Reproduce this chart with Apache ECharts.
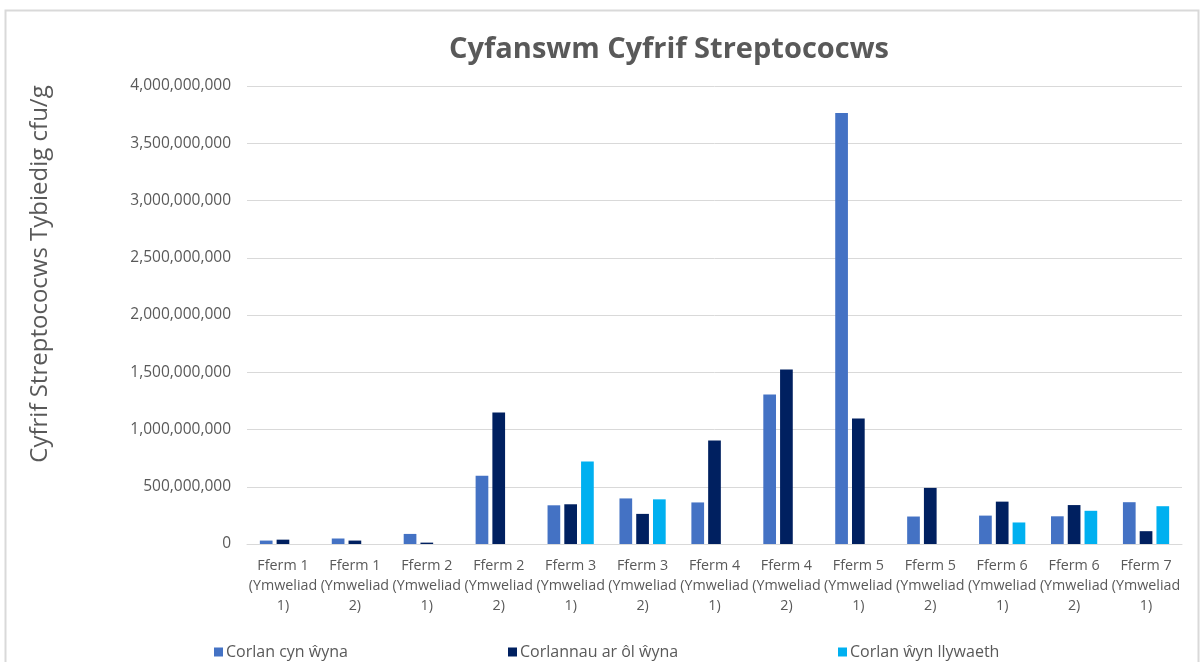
<!DOCTYPE html>
<html>
<head>
<meta charset="utf-8">
<script src="https://cdn.jsdelivr.net/npm/echarts@6/dist/echarts.min.js"></script>
<style>
html,body{margin:0;padding:0;background:#fff;}
#main{width:1204px;height:662px;}
</style>
</head>
<body>
<div id="main"></div>
<script>
const categories = [
  "Fferm 1\n(Ymweliad\n1)", "Fferm 1\n(Ymweliad\n2)", "Fferm 2\n(Ymweliad\n1)", "Fferm 2\n(Ymweliad\n2)",
  "Fferm 3\n(Ymweliad\n1)", "Fferm 3\n(Ymweliad\n2)", "Fferm 4\n(Ymweliad\n1)", "Fferm 4\n(Ymweliad\n2)",
  "Fferm 5\n(Ymweliad\n1)", "Fferm 5\n(Ymweliad\n2)", "Fferm 6\n(Ymweliad\n1)", "Fferm 6\n(Ymweliad\n2)",
  "Fferm 7\n(Ymweliad\n1)"
];
const seriesNames = ["Corlan cyn ŵyna", "Corlannau ar ôl ŵyna", "Corlan ŵyn llywaeth"];
const corlanCynWyna = [30000000, 48000000, 88000000, 595000000, 338000000, 398000000, 363000000, 1305000000, 3765000000, 240000000, 248000000, 242000000, 365000000];
const corlannauArOlWyna = [38000000, 30000000, 12000000, 1148000000, 347000000, 263000000, 905000000, 1525000000, 1095000000, 490000000, 370000000, 340000000, 112000000];
const corlanWynLlywaeth = [null, null, null, null, 720000000, 390000000, null, null, null, null, 188000000, 290000000, 330000000];
const yTicks = { min: 0, max: 4000000000, interval: 500000000 };

const colors = ["#4472C4", "#002060", "#00B0F0"];
const font = "'Open Sans', 'Noto Sans', sans-serif";
const gray = "#595959";

const chart = echarts.init(document.getElementById('main'));
const seriesData = [corlanCynWyna, corlannauArOlWyna, corlanWynLlywaeth];
const legendLefts = [209, 503, 833];

chart.setOption({
  animation: false,
  backgroundColor: '#ffffff',
  color: colors,
  title: {
    text: 'Cyfanswm Cyfrif Streptococws',
    left: 664, top: 30, textAlign: 'center',
    textStyle: { fontFamily: font, fontSize: 29, fontWeight: 'bold', color: gray }
  },
  graphic: [{
    type: 'rect', silent: true,
    shape: { x: 5.5, y: 10.5, width: 1193, height: 700 },
    style: { fill: 'none', stroke: '#d9d9d9', lineWidth: 2 }
  }, {
    type: 'text', silent: true,
    x: 40, y: 274, rotation: Math.PI / 2,
    style: {
      text: 'Cyfrif Streptococws Tybiedig cfu/g',
      fontFamily: font, fontSize: 24, fill: gray,
      align: 'center', verticalAlign: 'middle'
    }
  }],
  legend: seriesNames.map((n, i) => ({
    data: [n], left: legendLefts[i], top: 639,
    icon: 'rect', itemWidth: 9, itemHeight: 9, itemGap: 6,
    textStyle: { fontFamily: font, fontSize: 16, color: gray, padding: [0, 0, 0, -2] }
  })),
  grid: { left: 247, right: 22, top: 86, bottom: 118, containLabel: false },
  xAxis: {
    type: 'category', data: categories,
    axisLine: { lineStyle: { color: '#d9d9d9', width: 1 } },
    axisTick: { show: false },
    axisLabel: { interval: 0, margin: 12, lineHeight: 20, fontFamily: font, fontSize: 14.3, color: gray }
  },
  yAxis: {
    type: 'value', min: yTicks.min, max: yTicks.max, interval: yTicks.interval,
    axisLine: { show: false }, axisTick: { show: false },
    splitLine: { lineStyle: { color: '#d9d9d9', width: 1 } },
    axisLabel: {
      margin: 16, fontFamily: font, fontSize: 15.5, color: gray,
      formatter: v => v.toLocaleString('en-US')
    }
  },
  series: seriesData.map((d, i) => ({
    name: seriesNames[i], type: 'bar', data: d,
    barWidth: 12.7, barGap: '32%',
    itemStyle: { color: colors[i] }
  }))
});
</script>
</body>
</html>
